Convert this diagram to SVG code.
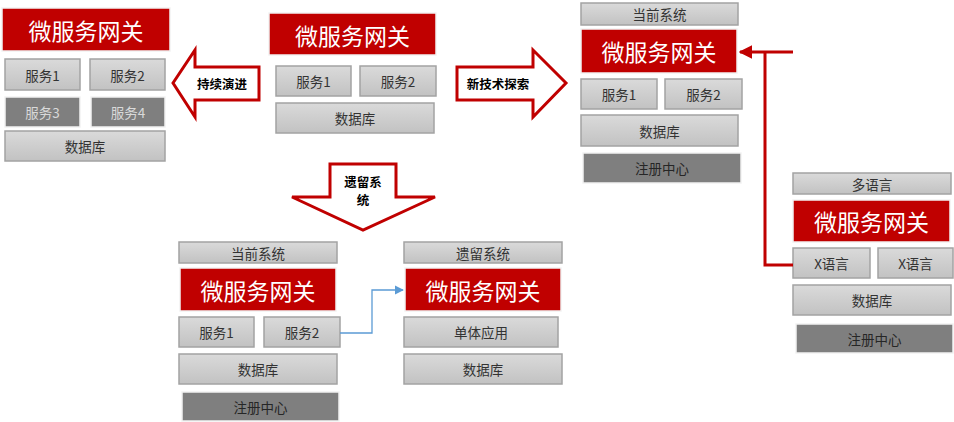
<svg xmlns="http://www.w3.org/2000/svg" width="954" height="422" viewBox="0 0 954 422">
<defs>
<linearGradient id="g" x1="0" y1="0" x2="0" y2="1">
<stop offset="0" stop-color="#dadada"/>
<stop offset="1" stop-color="#c2c2c2"/>
</linearGradient>
<marker id="ra" viewBox="0 0 10 10" refX="9" refY="5" markerWidth="4.5" markerHeight="4.5" orient="auto" markerUnits="strokeWidth">
<path d="M0,0 L10,5 L0,10 z" fill="#c00000"/>
</marker>
<marker id="ba" viewBox="0 0 10 10" refX="9" refY="5" markerWidth="7" markerHeight="7" orient="auto" markerUnits="strokeWidth">
<path d="M0,0 L10,5 L0,10 z" fill="#5b9bd5"/>
</marker>
</defs>
<style>
text{font-family:"Noto Sans CJK SC","Liberation Sans",sans-serif;text-anchor:middle;dominant-baseline:central}
.b rect{fill:url(#g);stroke:#a3a3a3;stroke-width:1.5}
.b text{font-size:13.5px;fill:#333}
.d rect{fill:#7f7f7f;stroke:#f2f2f2;stroke-width:1.5}
.d text{font-size:13.5px;fill:#262626}
.d.l text{fill:#d9d9d9}
.r rect{fill:#c00000;stroke:#f2f2f2;stroke-width:1.5}
.r text{font-size:23px;fill:#fff}
.ar polygon{fill:#fff;stroke:#c00000;stroke-width:3}
.ar text{font-size:12.5px;font-weight:bold;fill:#000}
</style>

<!-- Left cluster -->
<g id="L-gw" class="r"><rect x="2" y="8" width="168" height="43"/><text x="86" y="30">微服务网关</text></g>
<g id="L-s1" class="b"><rect x="5" y="59" width="75" height="31"/><text x="42.5" y="75">服务1</text></g>
<g id="L-s2" class="b"><rect x="90" y="59" width="75" height="31"/><text x="127.5" y="75">服务2</text></g>
<g id="L-s3" class="d l"><rect x="5" y="97" width="75" height="30"/><text x="42.5" y="112">服务3</text></g>
<g id="L-s4" class="d l"><rect x="91" y="97" width="74" height="30"/><text x="128" y="112">服务4</text></g>
<g id="L-db" class="b"><rect x="5" y="131" width="160" height="30"/><text x="85" y="146">数据库</text></g>

<!-- Middle top cluster -->
<g id="M-gw" class="r"><rect x="269" y="13" width="167" height="42"/><text x="352.5" y="35">微服务网关</text></g>
<g id="M-s1" class="b"><rect x="276" y="66" width="75" height="30"/><text x="313.5" y="81">服务1</text></g>
<g id="M-s2" class="b"><rect x="360" y="66" width="76" height="30"/><text x="398" y="81">服务2</text></g>
<g id="M-db" class="b"><rect x="276" y="103" width="158" height="30"/><text x="355" y="118">数据库</text></g>

<!-- Big arrows -->
<g id="arrow-evolve" class="ar">
<polygon points="173,83 195,50 195,67 259,67 259,100 195,100 195,117"/>
<text x="222" y="83">持续演进</text>
</g>
<g id="arrow-explore" class="ar">
<polygon points="457,67 533,67 533,50 566,83 533,117 533,100 457,100"/>
<text x="498" y="83">新技术探索</text>
</g>
<g id="arrow-legacy" class="ar">
<polygon points="330,164 396,164 396,197 435,197 363,230 292,197 330,197"/>
<text x="363" y="181">遗留系</text>
<text x="363" y="199.5">统</text>
</g>

<!-- Right top cluster -->
<g id="RT-title" class="b"><rect x="581" y="3" width="157" height="22"/><text x="659.5" y="14">当前系统</text></g>
<g id="RT-gw" class="r"><rect x="581" y="29" width="156" height="44"/><text x="659" y="51">微服务网关</text></g>
<g id="RT-s1" class="b"><rect x="581" y="79" width="76" height="30"/><text x="619" y="94">服务1</text></g>
<g id="RT-s2" class="b"><rect x="665" y="79" width="77" height="30"/><text x="703.5" y="94">服务2</text></g>
<g id="RT-db" class="b"><rect x="581" y="115" width="157" height="31"/><text x="659.5" y="130.5">数据库</text></g>
<g id="RT-reg" class="d"><rect x="583" y="153" width="158" height="30"/><text x="662" y="168">注册中心</text></g>

<!-- Right bottom cluster -->
<g id="RB-title" class="b"><rect x="793" y="173" width="158" height="21"/><text x="872" y="183.5">多语言</text></g>
<g id="RB-gw" class="r"><rect x="793" y="200" width="157" height="42"/><text x="871.5" y="221">微服务网关</text></g>
<g id="RB-x1" class="b"><rect x="793" y="248" width="77" height="30"/><text x="831.5" y="263">X语言</text></g>
<g id="RB-x2" class="b"><rect x="878" y="248" width="75" height="30"/><text x="915.5" y="263">X语言</text></g>
<g id="RB-db" class="b"><rect x="793" y="285" width="158" height="30"/><text x="872" y="300">数据库</text></g>
<g id="RB-reg" class="d"><rect x="796" y="324" width="157" height="29"/><text x="874.5" y="338.5">注册中心</text></g>

<!-- Bottom current system -->
<g id="BC-title" class="b"><rect x="179" y="242" width="158" height="21"/><text x="258" y="252.5">当前系统</text></g>
<g id="BC-gw" class="r"><rect x="180" y="268" width="156" height="43"/><text x="258" y="289.5">微服务网关</text></g>
<g id="BC-s1" class="b"><rect x="179" y="317" width="75" height="30"/><text x="216.5" y="332">服务1</text></g>
<g id="BC-s2" class="b"><rect x="264" y="317" width="76" height="30"/><text x="302" y="332">服务2</text></g>
<g id="BC-db" class="b"><rect x="179" y="354" width="158" height="30"/><text x="258" y="369">数据库</text></g>
<g id="BC-reg" class="d"><rect x="182" y="392" width="157" height="29"/><text x="260.5" y="406.5">注册中心</text></g>

<!-- Bottom legacy system -->
<g id="BL-title" class="b"><rect x="404" y="242" width="158" height="21"/><text x="483" y="252.5">遗留系统</text></g>
<g id="BL-gw" class="r"><rect x="405" y="268" width="156" height="43"/><text x="483" y="289.5">微服务网关</text></g>
<g id="BL-app" class="b"><rect x="404" y="317" width="154" height="30"/><text x="481" y="332">单体应用</text></g>
<g id="BL-db" class="b"><rect x="404" y="354" width="158" height="30"/><text x="483" y="369">数据库</text></g>

<!-- Connectors -->
<g id="connectors" fill="none">
<path d="M793,52 H740" stroke="#c00000" stroke-width="3" marker-end="url(#ra)"/>
<path d="M793,265 H765 V52" stroke="#c00000" stroke-width="3"/>
<path d="M340,333 H372 V290 H403" stroke="#5b9bd5" stroke-width="1.3" marker-end="url(#ba)"/>
</g>
</svg>
